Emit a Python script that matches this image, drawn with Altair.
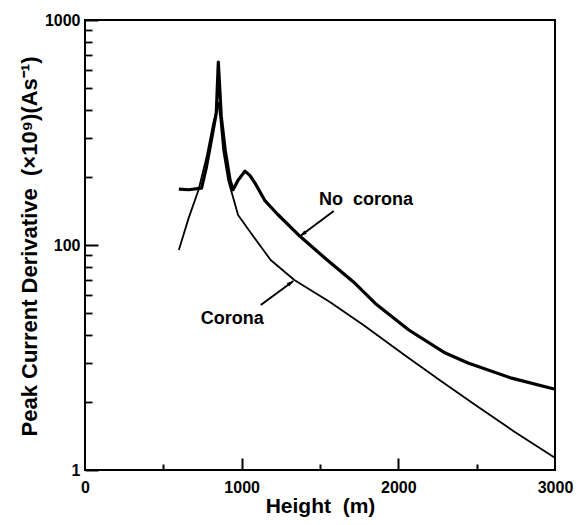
import altair as alt
import pandas as pd

# ---- data ----
nc_height = [599, 662, 744, 775, 807, 838, 851, 870, 895, 926, 945, 977, 1021, 1052, 1084,
             1147, 1229, 1374, 1544, 1714, 1859, 2067, 2300, 2445, 2723, 2994]
nc_value = [177, 176, 179, 222, 293, 386, 650, 371, 264, 194, 176, 194, 213, 204, 189,
            158, 137, 109, 86, 68.5, 54.5, 41.9, 33.1, 29.9, 25.6, 22.9]

co_height = [599, 662, 725, 775, 819, 845, 851, 863, 882, 914, 945, 977, 1059, 1185,
             1336, 1563, 1777, 2048, 2281, 2508, 2741, 2994]
co_value = [95, 132, 176, 244, 349, 410, 428, 371, 264, 194, 163, 136, 113, 85.8,
            69.9, 55.8, 44.1, 32.1, 24.6, 19.1, 14.8, 11.4]

x_ticks_major = [1000, 2000]
x_ticks_minor = [500, 1500, 2500]
x_labels = [0, 1000, 2000, 3000]
y_labels = [10, 100, 1000]
y_ticks_minor = [20, 30, 40, 50, 60, 70, 80, 90, 200, 300, 400, 500, 600, 700, 800, 900]

nc_label = ["No\u00a0 corona"]
nc_label_x = [1494]
nc_label_y = [150.6]
co_label = ["Corona"]
co_label_x = [1141]
co_label_y = [44.6]

arrow_x = [1588, 1122]
arrow_y = [141.7, 54.1]
arrow_x2 = [1374, 1330]
arrow_y2 = [109.6, 69.2]
arrow_angle = [233.7, 54.0]

# ---- tables ----
df_nc = pd.DataFrame({"height": nc_height, "value": nc_value})
df_co = pd.DataFrame({"height": co_height, "value": co_value})
df_lab_nc = pd.DataFrame({"t": nc_label, "height": nc_label_x, "value": nc_label_y})
df_lab_co = pd.DataFrame({"t": co_label, "height": co_label_x, "value": co_label_y})
df_arr = pd.DataFrame({"height": arrow_x, "value": arrow_y, "h2": arrow_x2, "v2": arrow_y2,
                       "ang": arrow_angle})

FONT = "Liberation Sans"
xs = alt.Scale(domain=[0, 3000], nice=False, zero=False)
ys = alt.Scale(type="log", domain=[10, 1000], nice=False)

x_label_axis = alt.Axis(orient="bottom", values=x_labels, format="d", ticks=False, domain=False,
                        grid=False, labelFlush=False, labelOverlap=False, labelFont=FONT,
                        labelFontSize=16, labelFontWeight="bold", labelColor="black",
                        labelPadding=9, title="Height\u00a0 (m)", titleFont=FONT,
                        titleFontSize=21, titleFontWeight="bold", titleColor="black",
                        titleY=42, titleBaseline="alphabetic")
y_label_axis = alt.Axis(orient="left", values=y_labels, format="d",
                        labelExpr="datum.value == 10 ? '1' : datum.label",
                        ticks=False, domain=False, grid=False, labelFlush=False,
                        labelOverlap=False, labelFont=FONT, labelFontSize=16,
                        labelFontWeight="bold", labelColor="black", labelPadding=5,
                        title="Peak Current Derivative\u00a0 (\u00d710\u2079)(As\u207b\u00b9)",
                        titleFont=FONT, titleFontSize=22, titleFontWeight="bold",
                        titleColor="black", titleX=-56, titleY=226, titleAngle=-90,
                        titleAlign="center", titleBaseline="middle")

x_major_axis = alt.Axis(orient="bottom", values=x_ticks_major, labels=False, domain=False,
                        grid=False, tickSize=12, tickWidth=2, tickColor="black", offset=-12,
                        title=None)
y_major_axis = alt.Axis(orient="left", values=y_labels, labels=False, domain=False,
                        grid=False, tickSize=13, tickWidth=2, tickColor="black", offset=-13,
                        title=None)
x_minor_axis = alt.Axis(orient="bottom", values=x_ticks_minor, labels=False, domain=False,
                        grid=False, tickSize=6, tickWidth=2, tickColor="black", offset=-6,
                        title=None)
y_minor_axis = alt.Axis(orient="left", values=y_ticks_minor, labels=False, domain=False,
                        grid=False, tickSize=7, tickWidth=1.8, tickColor="black", offset=-7,
                        title=None)

nc_line = alt.Chart(df_nc).mark_line(color="black", strokeWidth=3.2, strokeJoin="round").encode(
    x=alt.X("height:Q", scale=xs, axis=x_label_axis),
    y=alt.Y("value:Q", scale=ys, axis=y_label_axis),
)
co_line = alt.Chart(df_co).mark_line(color="black", strokeWidth=1.8, strokeJoin="round").encode(
    x=alt.X("height:Q", scale=xs, axis=x_major_axis),
    y=alt.Y("value:Q", scale=ys, axis=y_major_axis),
)
minor = alt.Chart(df_co).mark_point(opacity=0).encode(
    x=alt.X("height:Q", scale=xs, axis=x_minor_axis),
    y=alt.Y("value:Q", scale=ys, axis=y_minor_axis),
)
text_nc = alt.Chart(df_lab_nc).mark_text(font=FONT, fontSize=18, fontWeight="bold",
                                         color="black", baseline="alphabetic",
                                         align="left").encode(
    x=alt.X("height:Q", scale=xs, axis=None),
    y=alt.Y("value:Q", scale=ys, axis=None),
    text="t:N",
)
text_co = alt.Chart(df_lab_co).mark_text(font=FONT, fontSize=18, fontWeight="bold",
                                         color="black", baseline="alphabetic",
                                         align="right").encode(
    x=alt.X("height:Q", scale=xs, axis=None),
    y=alt.Y("value:Q", scale=ys, axis=None),
    text="t:N",
)
arrows = alt.Chart(df_arr).mark_rule(color="black", strokeWidth=2).encode(
    x=alt.X("height:Q", scale=xs, axis=None),
    y=alt.Y("value:Q", scale=ys, axis=None),
    x2="h2:Q",
    y2="v2:Q",
)
heads = alt.Chart(df_arr).mark_point(shape="M0,0L-0.55,1.7L0.55,1.7Z", filled=True,
                                     color="black", opacity=1, size=60).encode(
    x=alt.X("h2:Q", scale=xs, axis=None),
    y=alt.Y("v2:Q", scale=ys, axis=None),
    angle=alt.Angle("ang:Q", scale=None),
)

chart = alt.layer(nc_line, co_line, minor, text_nc, text_co, arrows, heads).resolve_scale(
    x="independent", y="independent"
).properties(
    width=470, height=450,
    autosize=alt.AutoSizeParams(type="none"),
    padding={"left": 77, "top": 12, "right": 18, "bottom": 47},
    background="white",
).configure_view(stroke="black", strokeWidth=2)

chart.save("out.html", embed_options={"renderer": "svg", "actions": False})
